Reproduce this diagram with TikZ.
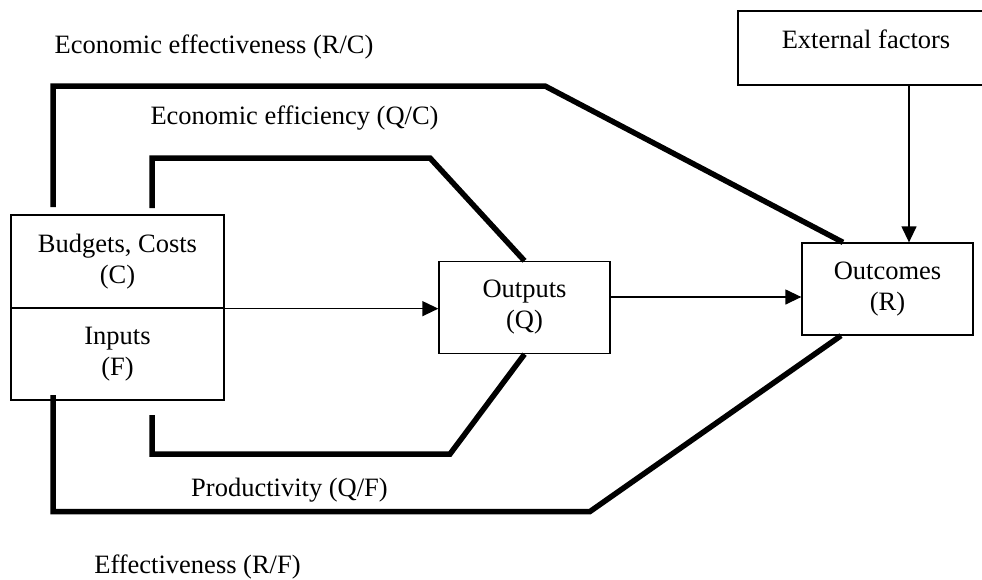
\documentclass[tikz,border=0pt]{standalone}
\usepackage{fontspec}
\setmainfont{Liberation Serif}
\usetikzlibrary{arrows.meta,calc}
\begin{document}
\begin{tikzpicture}[x=1pt,y=-1pt,
  font=\fontsize{26.5}{31}\selectfont,
  box/.style={draw, line width=1.3pt, align=center, inner sep=0pt},
  flow/.style={line width=1.3pt, -{Triangle[length=16pt,width=15pt]}},
  kpi/.style={line width=5.5pt, line join=miter},
  lbl/.style={inner sep=0pt}]
\useasboundingbox (0,0) rectangle (982,579);
\clip (0,0) rectangle (982,579);
% boxes
\node[box, minimum width=213pt, minimum height=93pt] (cost) at (117.5,261.5) {Budgets, Costs\\(C)};
\node[box, minimum width=213pt, minimum height=92pt] (inp) at (117.5,354) {Inputs\\(F)};
\node[box, minimum width=171pt, minimum height=92pt] (out) at (524.5,307.5) {Outputs\\(Q)};
\node[box, minimum width=171pt, minimum height=92pt] (res) at (887.5,289) {Outcomes\\(R)};
\node[box, minimum width=256pt, minimum height=74pt] (ext) at (866,48) {};
\node[lbl] (extlbl) at (866,39) {External factors};
% thin arrows
\coordinate (oy) at (0,297);
\coordinate (xa) at (909,0);
\draw[flow] (cost.south east) -- (cost.south east -| out.west);
\draw[flow] (out.east |- oy) -- (res.west |- oy);
\draw[flow] (ext.south -| xa) -- (res.north -| xa);
% thick measure lines
\coordinate (ee0) at (53,207);
\coordinate (ef0) at (152,208);
\coordinate (pr0) at (152,415);
\coordinate (fv0) at (53,395);
\draw[kpi] (ee0) -- (53,86) -- (545,86) -- ($(res.north)+(-44.5,0)$);
\draw[kpi] (ef0) -- (152,158) -- (430,158) -- (out.north);
\draw[kpi] (pr0) -- (152,454) -- (450,454) -- (out.south);
\draw[kpi] (fv0) -- (53,511.5) -- (590,511.5) -- ($(res.south)+(-46.5,0)$);
% labels
\node[lbl] (lee) at (214,47) {Economic effectiveness (R/C)};
\node[lbl] (lef) at (294.5,118.5) {Economic efficiency (Q/C)};
\node[lbl] (lpr) at (289.5,490) {Productivity (Q/F)};
\node[lbl] (lfv) at (197.5,567) {Effectiveness (R/F)};
\end{tikzpicture}
\end{document}
